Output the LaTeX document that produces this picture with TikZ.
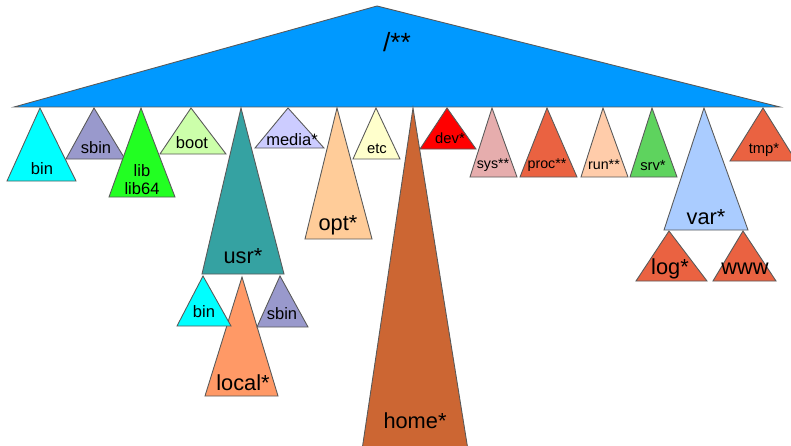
\documentclass[tikz,border=0pt]{standalone}
\usepackage{fontspec}
\setmainfont{Liberation Sans}
\definecolor{rootblue}{HTML}{0099FF}
\definecolor{bincyan}{HTML}{00FFFF}
\definecolor{sbinlav}{HTML}{9999CC}
\definecolor{libgreen}{HTML}{22FF22}
\definecolor{bootgreen}{HTML}{CCFFAA}
\definecolor{usrteal}{HTML}{35A2A2}
\definecolor{medialav}{HTML}{CCCCFF}
\definecolor{optpeach}{HTML}{FFCC99}
\definecolor{etcyellow}{HTML}{FFFFCC}
\definecolor{homebrown}{HTML}{CC6633}
\definecolor{devred}{HTML}{FF0000}
\definecolor{syspink}{HTML}{E6ADAD}
\definecolor{procred}{HTML}{EA6241}
\definecolor{runpeach}{HTML}{FFCCAA}
\definecolor{srvgreen}{HTML}{5ED35E}
\definecolor{varblue}{HTML}{AACCFF}
\definecolor{localorange}{HTML}{FF9966}

\begin{document}
\begin{tikzpicture}[x=0.02cm,y=-0.02cm,
    dir/.style={draw=black!65,line width=0.5pt,line join=miter},
    lroot/.style={font=\fontsize{15}{17}\selectfont},
    lbig/.style={font=\fontsize{12.4}{14}\selectfont},
    lmid/.style={font=\fontsize{9.4}{10.2}\selectfont,align=center},
    lsmall/.style={font=\fontsize{8.4}{10}\selectfont},
    ltiny/.style={font=\fontsize{8.1}{9}\selectfont}]
    \useasboundingbox (0,0) rectangle (791,446);
    % root
    \filldraw[dir,fill=rootblue] (377,6)--(780,107)--(14,107)--cycle;
    \node (root) at (397,42) [lroot] {/**};
    % first level
    \filldraw[dir,fill=bincyan] (40,108)--(76,181)--(7,181)--cycle;
    \node (bin) at (42,169) [lmid] {bin};
    \filldraw[dir,fill=sbinlav] (94,108)--(125,159)--(66,159)--cycle;
    \node (sbin) at (96,148) [lmid] {sbin};
    \filldraw[dir,fill=libgreen] (141,108)--(175,197)--(109,197)--cycle;
    \node (lib) at (142,180) [lmid] {lib\\lib64};
    \filldraw[dir,fill=bootgreen] (191,108)--(226,154)--(160,154)--cycle;
    \node (boot) at (192,143) [lmid] {boot};
    \filldraw[dir,fill=usrteal] (241,108)--(284,274)--(202,274)--cycle;
    \node (usr) at (243,256) [lbig] {usr*};
    \filldraw[dir,fill=medialav] (288,108)--(324,148)--(255,148)--cycle;
    \node (media) at (292,140) [lmid] {media*};
    \filldraw[dir,fill=optpeach] (337,108)--(372,239)--(305,239)--cycle;
    \node (opt) at (338,225) [lbig] {opt*};
    \filldraw[dir,fill=etcyellow] (376,108)--(400,159)--(353,159)--cycle;
    \node (etc) at (377,149) [lsmall] {etc};
    \filldraw[dir,fill=homebrown] (413,108)--(468,450)--(362,450)--cycle;
    \node (home) at (415,421) [lbig] {home*};
    \filldraw[dir,fill=devred] (447,108)--(476,149)--(420,149)--cycle;
    \node (dev) at (450,138) [lsmall] {dev*};
    \filldraw[dir,fill=syspink] (492,108)--(517,177)--(470,177)--cycle;
    \node (sys) at (493,165) [ltiny] {sys**};
    \filldraw[dir,fill=procred] (547,108)--(577,177)--(520,177)--cycle;
    \node (proc) at (547,165) [ltiny] {proc**};
    \filldraw[dir,fill=runpeach] (603,108)--(628,177)--(581,177)--cycle;
    \node (run) at (604,165) [ltiny] {run**};
    \filldraw[dir,fill=srvgreen] (652,108)--(677,177)--(630,177)--cycle;
    \node (srv) at (653,165) [lsmall] {srv*};
    \filldraw[dir,fill=varblue] (704,108)--(748,230)--(664,230)--cycle;
    \node (var) at (706,217) [lbig] {var*};
    \filldraw[dir,fill=procred] (763,108)--(796,161)--(730,161)--cycle;
    \node (tmp) at (764,150) [lsmall] {tmp*};
    % under usr
    \filldraw[dir,fill=localorange] (242,277)--(278,396)--(205,396)--cycle;
    \node (local) at (243,383) [lbig] {local*};
    \filldraw[dir,fill=bincyan] (203,276)--(231,326)--(177,326)--cycle;
    \node (usrbin) at (204,312) [lmid] {bin};
    \filldraw[dir,fill=sbinlav] (280,276)--(308,327)--(257,327)--cycle;
    \node (usrsbin) at (282,314) [lmid] {sbin};
    % under var
    \filldraw[dir,fill=procred] (669,231)--(707,281)--(636,281)--cycle;
    \node (log) at (670,269) [lbig] {log*};
    \filldraw[dir,fill=procred] (743,231)--(776,281)--(713,281)--cycle;
    \node (www) at (745,269) [lbig] {www};
\end{tikzpicture}
\end{document}
